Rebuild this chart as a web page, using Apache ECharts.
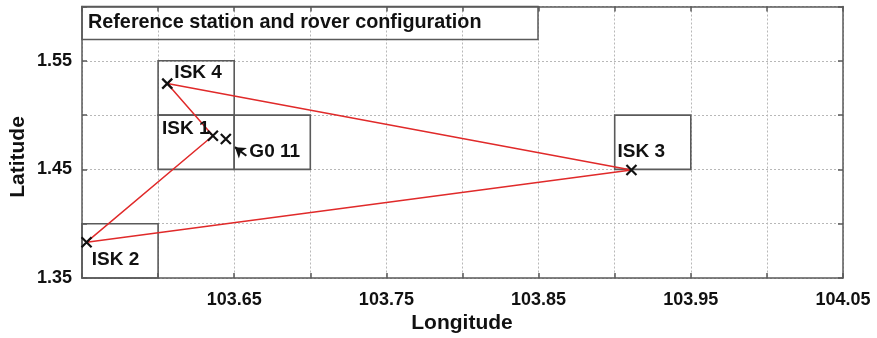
<!DOCTYPE html>
<html>
<head>
<meta charset="utf-8">
<script src="https://cdn.jsdelivr.net/npm/echarts@6/dist/echarts.min.js"></script>
<style>
  html, body { margin: 0; padding: 0; background: #fff; }
  #chart { width: 877px; height: 338px; }
</style>
</head>
<body>
<div id="chart"></div>
<script>
// Station positions (degrees)
const stationNames = ['ISK 4', 'ISK 1', 'G0 11', 'ISK 3', 'ISK 2'];
const stationLon = [103.606, 103.636, 103.6445, 103.911, 103.553];
const stationLat = [1.529, 1.481, 1.478, 1.4495, 1.383];

// Baseline loop between the reference stations
const baselineOrder = ['ISK 4', 'ISK 3', 'ISK 2', 'ISK 1', 'ISK 4'];

// Name boxes in data units: [lon0, lat0, lon1, lat1]
const labelBoxes = [
  [103.60, 1.50, 103.65, 1.55],
  [103.60, 1.45, 103.65, 1.50],
  [103.65, 1.45, 103.70, 1.50],
  [103.90, 1.45, 103.95, 1.50],
  [103.55, 1.35, 103.60, 1.40]
];

// Pointer from the rover label to the rover
const pointerArrow = [[103.658, 1.4625], [103.6505, 1.4705]];

// Axis tick labels
const xTickLabels = ['103.65', '103.75', '103.85', '103.95', '104.05'];
const yTickLabels = ['1.35', '1.45', '1.55'];

const FONT = '"Liberation Sans", Arial, sans-serif';
const FRAME = '#5a5a5a';

// label offsets (px) for each station name relative to its marker
const labelOffsets = {
  'ISK 4': [32, -10],
  'ISK 1': [-26, -6],
  'G0 11': [50, 14],
  'ISK 3': [11, -17],
  'ISK 2': [30, 19]
};

const stationData = stationNames.map((n, i) => ({
  name: n,
  value: [stationLon[i], stationLat[i]],
  label: { offset: labelOffsets[n] }
}));

const loopData = baselineOrder.map(n => {
  const i = stationNames.indexOf(n);
  return [stationLon[i], stationLat[i]];
});

const boxAreas = labelBoxes.map(b => [{ coord: [b[0], b[1]] }, { coord: [b[2], b[3]] }]);

function xFmt(v) {
  const s = v.toFixed(2);
  return xTickLabels.indexOf(s) >= 0 ? s : '';
}
function yFmt(v) {
  const s = v.toFixed(2);
  return yTickLabels.indexOf(s) >= 0 ? s : '';
}

const gridLine = { show: true, lineStyle: { color: '#b8b8b8', type: [2, 2], width: 1 } };
const tickIn = { show: true, inside: true, length: 5, lineStyle: { color: FRAME, width: 1.5 } };
const axisLine = { show: true, onZero: false, lineStyle: { color: FRAME, width: 1.5 } };

const xBase = { type: 'value', min: 103.55, max: 104.05, interval: 0.05 };
const yBase = { type: 'value', min: 1.35, max: 1.60, interval: 0.05 };

const chart = echarts.init(document.getElementById('chart'), null, { renderer: 'canvas' });
chart.setOption({
  backgroundColor: '#fff',
  animation: false,
  grid: { left: 82, right: 34, top: 6.5, bottom: 60 },
  xAxis: [
    Object.assign({}, xBase, {
      position: 'bottom',
      axisLine: axisLine, axisTick: tickIn, splitLine: gridLine,
      axisLabel: { formatter: xFmt, color: '#111', fontFamily: FONT, fontWeight: 'bold', fontSize: 18, margin: 13 }
    }),
    Object.assign({}, xBase, {
      position: 'top',
      axisLine: axisLine, axisTick: tickIn, splitLine: { show: false },
      axisLabel: { show: false }
    })
  ],
  yAxis: [
    Object.assign({}, yBase, {
      position: 'left',
      axisLine: axisLine, axisTick: tickIn, splitLine: gridLine,
      axisLabel: { formatter: yFmt, color: '#111', fontFamily: FONT, fontWeight: 'bold', fontSize: 18, margin: 10 }
    }),
    Object.assign({}, yBase, {
      position: 'right',
      axisLine: axisLine, axisTick: tickIn, splitLine: { show: false },
      axisLabel: { show: false }
    })
  ],
  graphic: [
    {
      type: 'rect', z: 50,
      shape: { x: 82, y: 6.5, width: 456, height: 33 },
      style: { fill: 'rgba(255,255,255,0)', stroke: FRAME, lineWidth: 1.5 }
    },
    {
      type: 'text', z: 51, x: 88, y: 23,
      style: { text: 'Reference station and rover configuration', fill: '#111',
               font: 'bold 19.8px ' + FONT, textVerticalAlign: 'middle' }
    },
    {
      type: 'text', z: 51, x: 462, y: 323,
      style: { text: 'Longitude', fill: '#111', font: 'bold 21px ' + FONT,
               textAlign: 'center', textVerticalAlign: 'middle' }
    },
    {
      type: 'text', z: 51, x: 18, y: 157, rotation: Math.PI / 2,
      style: { text: 'Latitude', fill: '#111', font: 'bold 21px ' + FONT,
               textAlign: 'center', textVerticalAlign: 'middle' }
    }
  ],
  series: [
    {
      name: 'boxes',
      type: 'line',
      data: [],
      silent: true,
      markArea: {
        silent: true,
        itemStyle: { color: 'rgba(0,0,0,0)', borderColor: FRAME, borderWidth: 1.6 },
        label: { show: false },
        data: boxAreas
      }
    },
    {
      name: 'baselines',
      type: 'line',
      data: loopData,
      symbol: 'none',
      lineStyle: { color: '#e02a2a', width: 1.5 },
      z: 3
    },
    {
      name: 'pointer',
      type: 'lines',
      coordinateSystem: 'cartesian2d',
      symbol: ['none', 'arrow'],
      symbolSize: 10,
      lineStyle: { color: '#111', width: 2, opacity: 1 },
      data: [{ coords: pointerArrow }],
      z: 4
    },
    {
      name: 'stations',
      type: 'scatter',
      data: stationData,
      symbol: 'path://M0,0L10,10M10,0L0,10',
      symbolSize: 10,
      itemStyle: { color: 'rgba(0,0,0,0)', borderColor: '#111', borderWidth: 2.2, opacity: 1 },
      label: {
        show: true,
        position: [5, 5],
        align: 'center',
        verticalAlign: 'middle',
        formatter: p => p.name,
        color: '#111',
        textBorderWidth: 0,
        fontFamily: FONT,
        fontWeight: 'bold',
        fontSize: 19
      },
      z: 5
    }
  ]
});
</script>
</body>
</html>
